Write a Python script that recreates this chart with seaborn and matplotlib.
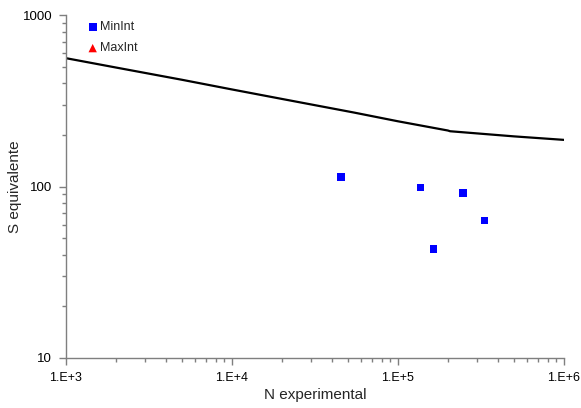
import numpy as np
import pandas as pd
import seaborn as sns
import matplotlib
matplotlib.use("Agg")
import matplotlib.pyplot as plt
from matplotlib.ticker import FixedLocator, NullFormatter

# Curve (design line)
curve_n = [1e3, 2e3, 5e3, 1e4, 2e4, 5.42e4, 1e5, 2e5, 2.06e5, 5e5, 1e6]
curve_s = [560, 494, 419, 368, 324, 270, 240, 212, 210, 196, 187]

# MinInt experimental points
minint_n = [45300, 136200, 163000, 246600, 331000]
minint_s = [113.6, 98.4, 43.2, 91.7, 63.5]

# MaxInt (no visible points)
maxint_n = []
maxint_s = []

x_ticks = [1e3, 1e4, 1e5, 1e6]
x_labels = ["1.E+3", "1.E+4", "1.E+5", "1.E+6"]
y_ticks = [10, 100, 1000]
y_labels = ["10", "100", "1000"]

sns.set_style("white")
plt.rcParams['font.family'] = ['Liberation Sans', 'DejaVu Sans']

fig = plt.figure(figsize=(5.81, 4.08), dpi=100)
ax = fig.add_axes([66/581, 50/408, 498/581, 343/408])

curve_df = pd.DataFrame({"N": curve_n, "S": curve_s})
sns.lineplot(data=curve_df, x="N", y="S", color="black", linewidth=1.6, ax=ax,
             sort=False, estimator=None)

min_df = pd.DataFrame({"N": minint_n, "S": minint_s})
sns.scatterplot(data=min_df, x="N", y="S", marker="s", color="#0000ff", s=28,
                edgecolor="none", ax=ax, label="MinInt")
ax.scatter(maxint_n, maxint_s, marker="^", color="#ff0000", s=30, edgecolor="none",
           label="MaxInt")

ax.set_xscale("log")
ax.set_yscale("log")
ax.set_xlim(1e3, 1e6)
ax.set_ylim(10, 1000)

ax.xaxis.set_major_locator(FixedLocator(x_ticks))
ax.set_xticklabels(x_labels)
ax.yaxis.set_major_locator(FixedLocator(y_ticks))
ax.set_yticklabels(y_labels)
ax.xaxis.set_minor_locator(matplotlib.ticker.LogLocator(base=10, subs=np.arange(2, 10)))
ax.yaxis.set_minor_locator(matplotlib.ticker.LogLocator(base=10, subs=np.arange(2, 10)))
ax.xaxis.set_minor_formatter(NullFormatter())
ax.yaxis.set_minor_formatter(NullFormatter())

axis_color = "#7f7f7f"
for side in ["top", "right"]:
    ax.spines[side].set_visible(False)
for side in ["left", "bottom"]:
    ax.spines[side].set_color(axis_color)
    ax.spines[side].set_linewidth(1.0)

ax.tick_params(which="major", direction="out", length=5, width=1, color=axis_color,
               labelcolor="black", left=True, bottom=True, pad=5)
ax.tick_params(axis="x", which="major", labelsize=9)
ax.tick_params(axis="y", which="major", labelsize=9.5)
ax.tick_params(which="minor", direction="out", length=3, width=1, color=axis_color,
               left=True, bottom=True)

ax.set_xlabel("N experimental", fontsize=11, labelpad=3)
ax.set_ylabel("S equivalente", fontsize=11)
ax.yaxis.set_label_coords(-0.088, 0.5)

leg = ax.legend(loc="upper left", bbox_to_anchor=(0.031, 0.997), frameon=False,
                fontsize=9, handletextpad=0.1, labelspacing=0.75, borderaxespad=0,
                handlelength=1.0, markerscale=1.1)

fig.savefig("out.png", dpi=100)
